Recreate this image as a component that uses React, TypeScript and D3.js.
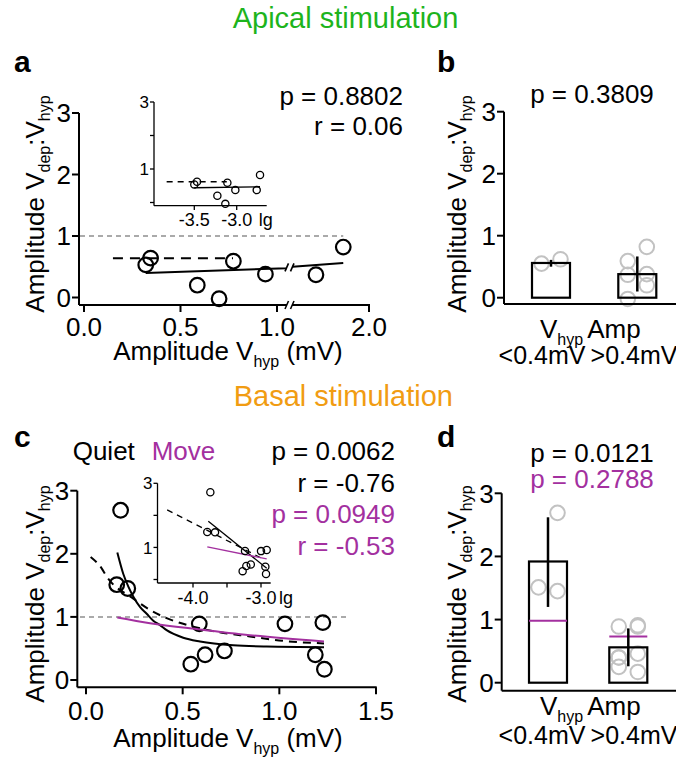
import React from "react";
import * as d3 from "d3";

const FONT = "Liberation Sans, Arial, Helvetica, sans-serif";
const GREEN = "#1db41d";
const ORANGE = "#f19c12";
const PURPLE = "#a3309f";
const GRAY_CIRCLE = "#c2c2c2";
const GRAY_LINE = "#8f8f8f";

// ---------- Panel a (apical, scatter) ----------
const apicalAmp = [0.32, 0.345, 0.587, 0.7, 0.774, 0.94, 1.66, 1.835];
const apicalRatio = [0.53, 0.64, 0.2, -0.02, 0.59, 0.38, 0.37, 0.82];
const apicalFitSolid: [number, number][] = [[0.32, 0.4], [1.05, 0.475], [1.51, 0.5], [1.835, 0.56]];
const apicalFitDashed: [number, number][] = [[0.15, 0.64], [0.772, 0.64]];
const apicalXTicks = [0, 0.5, 1.0, 2.0];
const apicalXTickLabels = ["0.0", "0.5", "1.0", "2.0"];
const yTicks = [0, 1, 2, 3];
const yTickLabels = ["0", "1", "2", "3"];

// inset a (log10 amplitude)
const apicalLgAmp = [-3.5, -3.468, -3.228, -3.134, -3.11, -3.016, -2.764, -2.725];
const apicalLgRatio = [0.54, 0.62, 0.2, -0.04, 0.59, 0.37, 0.37, 0.82];
const apicalLgSolid: [number, number][] = [[-3.5, 0.44], [-2.725, 0.47]];
const apicalLgDashed: [number, number][] = [[-3.826, 0.62], [-3.117, 0.62]];
const insetYTicks = [0, 1, 2, 3];
const insetYTickLabels = ["", "1", "", "3"];
const insetAXTicks = [-3.5, -3.0];
const insetAXTickLabels = ["-3.5", "-3.0"];

// ---------- Panel b (apical, bars) ----------
const barCategories = ["low", "high"];
const apicalLowPts = [0.55, 0.62];
const apicalHighPts = [0.59, 0.82, 0.37, 0.38, -0.02, 0.2];
const apicalBarMean = [0.56, 0.38];
const apicalBarErrLo = [0.5, 0.1];
const apicalBarErrHi = [0.61, 0.665];

// ---------- Panel c (basal, scatter) ----------
const basalAmp = [0.179, 0.159, 0.216, 0.586, 1.029, 1.225, 0.542, 0.616, 0.716, 1.186, 1.233];
const basalRatio = [2.69, 1.51, 1.45, 0.89, 0.89, 0.91, 0.25, 0.4, 0.46, 0.4, 0.17];
const quietFit: [number, number][] = [
  [0.162, 2.02], [0.193, 1.68], [0.219, 1.48], [0.245, 1.32], [0.279, 1.16], [0.314, 1.05],
  [0.348, 0.94], [0.383, 0.87], [0.417, 0.79], [0.503, 0.67], [0.59, 0.61], [0.762, 0.55],
  [0.935, 0.53], [1.231, 0.52],
];
const quietLinFit: [number, number][] = [
  [0.024, 1.95], [0.081, 1.77], [0.107, 1.64], [0.245, 1.29], [0.331, 1.11], [0.417, 0.98],
  [0.555, 0.845], [0.676, 0.765], [0.848, 0.69], [1.02, 0.62], [1.231, 0.58],
];
const moveFit: [number, number][] = [[0.162, 0.99], [0.331, 0.9], [0.59, 0.8], [0.848, 0.71], [1.231, 0.61]];
const basalXTicks = [0, 0.5, 1.0, 1.5];
const basalXTickLabels = ["0.0", "0.5", "1.0", "1.5"];

// inset c
const basalLgAmp = [-3.745, -3.79, -3.676, -3.235, -3.0, -2.916, -3.27, -3.216, -3.15, -2.936, -2.926];
const basalLgRatio = [2.72, 1.48, 1.47, 0.89, 0.885, 0.92, 0.26, 0.42, 0.47, 0.4, 0.17];
const basalLgSolid: [number, number][] = [[-3.775, 1.82], [-2.916, 0.35]];
const basalLgDashed: [number, number][] = [[-4.38, 2.17], [-2.95, 0.62]];
const basalLgMove: [number, number][] = [[-3.79, 1.02], [-2.916, 0.64]];
const insetCXTicks = [-4.0, -3.5, -3.0];
const insetCXTickLabels = ["-4.0", "", "-3.0"];

// ---------- Panel d (basal, bars) ----------
const basalLowPts = [1.51, 2.69, 1.45];
const basalLowSides = [-1, 1, 1];
const basalHighPts = [0.89, 0.91, 0.4, 0.46, 0.25, 0.17, 0.4, 0.89];
const basalBarMean = [1.92, 0.56];
const basalBarErrLo = [1.2, 0.26];
const basalBarErrHi = [2.62, 0.86];
const basalMoveMean = [0.98, 0.73];

// ---------- helpers ----------
const txt = (extra: any = {}) => ({ fontFamily: FONT, fontSize: 26, fill: "#000", ...extra });

function YTitle({ x, y }: { x: number; y: number }) {
  return (
    <text transform={`translate(${x},${y}) rotate(-90)`} textAnchor="middle" {...txt()}>
      <tspan>Amplitude V</tspan>
      <tspan fontSize={16} dy={6}>dep</tspan>
      <tspan dy={-6}>:V</tspan>
      <tspan fontSize={16} dy={6}>hyp</tspan>
    </text>
  );
}

function XTitle({ x, y }: { x: number; y: number }) {
  return (
    <text x={x} y={y} textAnchor="middle" {...txt()}>
      <tspan>Amplitude V</tspan>
      <tspan fontSize={16} dy={7}>hyp</tspan>
      <tspan dy={-7}> (mV)</tspan>
    </text>
  );
}

function YAxis({ x, y, top, bottom, labels = true, tickLen = 7, fontSize = 26, ticks = yTicks, tickLabels = yTickLabels, sw = 2 }: any) {
  return (
    <g>
      <line x1={x} x2={x} y1={top} y2={bottom} stroke="#000" strokeWidth={sw} />
      {ticks.map((t: number, i: number) => (
        <g key={i}>
          <line x1={x - tickLen} x2={x} y1={y(t)} y2={y(t)} stroke="#000" strokeWidth={sw} />
          {labels && tickLabels[i] !== "" && (
            <text x={x - tickLen - 1} y={y(t)} dy="0.36em" textAnchor="end" {...txt({ fontSize })}>
              {tickLabels[i]}
            </text>
          )}
        </g>
      ))}
    </g>
  );
}

function BreakMark({ x, y }: { x: number; y: number }) {
  return (
    <g>
      <rect x={x - 2.5} y={y - 4} width={5} height={8} fill="#fff" />
      <line x1={x - 4.5} y1={y + 4} x2={x - 1} y2={y - 4} stroke="#000" strokeWidth={1.6} />
      <line x1={x + 1} y1={y + 4} x2={x + 4.5} y2={y - 4} stroke="#000" strokeWidth={1.6} />
    </g>
  );
}

function BarPanel({ x, y, xAxisY, axisX, pts, sidesList, means, lo, hi, moveMeans }: any) {
  const bw = 38;
  return (
    <g>
      {barCategories.map((c, i) => {
        const cx = x(c) as number;
        return (
          <g key={c}>
            <rect x={cx - bw / 2} y={y(means[i])} width={bw} height={y(0) - y(means[i])} fill="#fff" />
            {pts[i].map((v: number, j: number) => {
              const side = sidesList[i] ? sidesList[i][j] : j % 2 === 0 ? -1 : 1;
              return (
                <circle key={j} cx={cx + side * 9.5} cy={y(v)} r={7.3} fill="none" stroke={GRAY_CIRCLE} strokeWidth={2} />
              );
            })}
            <rect x={cx - bw / 2} y={y(means[i])} width={bw} height={y(0) - y(means[i])} fill="none" stroke="#000" strokeWidth={2.2} />
            {moveMeans && (
              <line x1={cx - bw / 2} x2={cx + bw / 2} y1={y(moveMeans[i])} y2={y(moveMeans[i])} stroke={PURPLE} strokeWidth={2} />
            )}
            <line x1={cx} x2={cx} y1={y(lo[i])} y2={y(hi[i])} stroke="#000" strokeWidth={2.5} />
          </g>
        );
      })}
      <line x1={axisX} x2={676} y1={xAxisY} y2={xAxisY} stroke="#000" strokeWidth={2} />
    </g>
  );
}

function BarLabels({ y1, y2 }: { y1: number; y2: number }) {
  return (
    <g>
      <text x={540} y={y1} {...txt()}>
        <tspan>V</tspan>
        <tspan fontSize={16} dy={7}>hyp</tspan>
        <tspan dy={-7} dx={4}>Amp</tspan>
      </text>
      <text x={542} y={y2} textAnchor="middle" {...txt({ fontSize: 25 })}>&lt;0.4mV</text>
      <text x={634} y={y2} textAnchor="middle" {...txt({ fontSize: 25 })}>&gt;0.4mV</text>
    </g>
  );
}

export default function App() {
  // ----- panel a scales -----
  const xA = d3.scaleLinear().domain([0, 1.07, 1.5, 2.0]).range([84, 290.5, 291, 369]);
  const yA = d3.scaleLinear().domain([0, 3]).range([297.5, 113]);
  const xIA = d3.scaleLinear().domain([-3.5, -3.0]).range([194.3, 236.7]);
  const yIA = d3.scaleLinear().domain([0, 3]).range([202.5, 102]);

  // ----- panel b -----
  const xB = d3.scalePoint<string>().domain(barCategories).range([551, 637.3]);
  const yB = d3.scaleLinear().domain([0, 3]).range([297.7, 111.7]);

  // ----- panel c -----
  const xC = d3.scaleLinear().domain([0, 1.5]).range([86, 376]);
  const yC = d3.scaleLinear().domain([0, 3]).range([680, 490.7]);
  const xIC = d3.scaleLinear().domain([-4, -3]).range([193, 261]);
  const yIC = d3.scaleLinear().domain([0, 3]).range([579.5, 483.3]);

  // ----- panel d -----
  const xD = d3.scalePoint<string>().domain(barCategories).range([548, 628.3]);
  const yD = d3.scaleLinear().domain([0, 3]).range([682.7, 493.3]);

  const lineA = d3.line<[number, number]>().x((d) => xA(d[0])).y((d) => yA(d[1]));
  const lineIA = d3.line<[number, number]>().x((d) => xIA(d[0])).y((d) => yIA(d[1]));
  const lineC = d3.line<[number, number]>().x((d) => xC(d[0])).y((d) => yC(d[1])).curve(d3.curveMonotoneX);
  const lineIC = d3.line<[number, number]>().x((d) => xIC(d[0])).y((d) => yIC(d[1]));

  const aFitBreakY = yA(0.49);

  return (
    <svg width={676} height={758} style={{ position: "absolute", left: 0, top: 0, background: "#fff" }}>
      <rect width={676} height={758} fill="#fff" />
      {/* Titles */}
      <text x={345.5} y={28} textAnchor="middle" {...txt({ fontSize: 29, fill: GREEN })}>Apical stimulation</text>
      <text x={343.3} y={406} textAnchor="middle" {...txt({ fontSize: 29, fill: ORANGE })}>Basal stimulation</text>

      {/* ================= Panel a ================= */}
      <text x={14} y={72} {...txt({ fontSize: 30, fontWeight: "bold" })}>a</text>
      <text x={403} y={105} textAnchor="end" {...txt()}>p = 0.8802</text>
      <text x={403} y={135} textAnchor="end" {...txt()}>r = 0.06</text>
      <YAxis x={79} y={yA} top={113} bottom={305} />
      <line x1={79} x2={370} y1={305} y2={305} stroke="#000" strokeWidth={2} />
      {apicalXTicks.map((t, i) => (
        <g key={i}>
          <line x1={xA(t)} x2={xA(t)} y1={305} y2={312} stroke="#000" strokeWidth={2} />
          <text x={xA(t)} y={336} textAnchor="middle" {...txt()}>{apicalXTickLabels[i]}</text>
        </g>
      ))}
      <BreakMark x={289.5} y={305} />
      <line x1={80} x2={xA(1.835)} y1={yA(1)} y2={yA(1)} stroke={GRAY_LINE} strokeWidth={1.5} strokeDasharray="5,4" />
      <path d={lineA(apicalFitDashed) || ""} fill="none" stroke="#000" strokeWidth={2} strokeDasharray="10,7" />
      <path d={lineA(apicalFitSolid) || ""} fill="none" stroke="#000" strokeWidth={2} />
      {apicalAmp.map((v, i) => (
        <circle key={i} cx={xA(v)} cy={yA(apicalRatio[i])} r={7.3} fill="none" stroke="#000" strokeWidth={2.2} />
      ))}
      <BreakMark x={289.5} y={aFitBreakY} />
      <YTitle x={44} y={204} />
      <XTitle x={228} y={360} />

      {/* inset a */}
      <YAxis x={154} y={yIA} top={102} bottom={205.7} tickLen={4} fontSize={17} ticks={insetYTicks} tickLabels={insetYTickLabels} sw={1.3} />
      <line x1={154} x2={266.7} y1={205.7} y2={205.7} stroke="#000" strokeWidth={1.3} />
      {insetAXTicks.map((t, i) => (
        <g key={i}>
          <line x1={xIA(t)} x2={xIA(t)} y1={205.7} y2={210} stroke="#000" strokeWidth={1.3} />
          <text x={xIA(t)} y={226} textAnchor="middle" {...txt({ fontSize: 18 })}>{insetAXTickLabels[i]}</text>
        </g>
      ))}
      <text x={xIA(-3.0) + 22} y={226} {...txt({ fontSize: 18 })}>lg</text>
      <path d={lineIA(apicalLgDashed) || ""} fill="none" stroke="#000" strokeWidth={1.3} strokeDasharray="6,5" />
      <path d={lineIA(apicalLgSolid) || ""} fill="none" stroke="#000" strokeWidth={1.3} />
      {apicalLgAmp.map((v, i) => (
        <circle key={i} cx={xIA(v)} cy={yIA(apicalLgRatio[i])} r={3.6} fill="none" stroke="#000" strokeWidth={1.3} />
      ))}

      {/* ================= Panel b ================= */}
      <text x={437} y={72} {...txt({ fontSize: 30, fontWeight: "bold" })}>b</text>
      <text x={592} y={103} textAnchor="middle" {...txt()}>p = 0.3809</text>
      <YAxis x={504} y={yB} top={111.7} bottom={304} />
      <BarPanel
        x={xB}
        y={yB}
        xAxisY={304}
        axisX={504}
        pts={[apicalLowPts, apicalHighPts]}
        sidesList={[null, null]}
        means={apicalBarMean}
        lo={apicalBarErrLo}
        hi={apicalBarErrHi}
      />
      <YTitle x={466} y={204} />
      <BarLabels y1={338} y2={363.5} />

      {/* ================= Panel c ================= */}
      <text x={14} y={447} {...txt({ fontSize: 30, fontWeight: "bold" })}>c</text>
      <text x={72.7} y={460} {...txt()}>Quiet</text>
      <text x={151.7} y={460} {...txt({ fill: PURPLE })}>Move</text>
      <text x={395} y={460} textAnchor="end" {...txt()}>p = 0.0062</text>
      <text x={395} y={491.7} textAnchor="end" {...txt()}>r = -0.76</text>
      <text x={395} y={523.3} textAnchor="end" {...txt({ fill: PURPLE })}>p = 0.0949</text>
      <text x={395} y={555} textAnchor="end" {...txt({ fill: PURPLE })}>r = -0.53</text>
      <YAxis x={77.3} y={yC} top={490.7} bottom={687.3} />
      <line x1={77.3} x2={376.7} y1={687.3} y2={687.3} stroke="#000" strokeWidth={2} />
      {basalXTicks.map((t, i) => (
        <g key={i}>
          <line x1={xC(t)} x2={xC(t)} y1={687.3} y2={694.3} stroke="#000" strokeWidth={2} />
          <text x={xC(t)} y={720} textAnchor="middle" {...txt()}>{basalXTickLabels[i]}</text>
        </g>
      ))}
      <line x1={80} x2={xC(1.357)} y1={yC(1)} y2={yC(1)} stroke={GRAY_LINE} strokeWidth={1.5} strokeDasharray="5,4" />
      {basalAmp.map((v, i) => (
        <circle key={i} cx={xC(v)} cy={yC(basalRatio[i])} r={7.3} fill="none" stroke="#000" strokeWidth={2.2} />
      ))}
      <path d={lineC(quietLinFit) || ""} fill="none" stroke="#000" strokeWidth={2} strokeDasharray="8,6" />
      <path d={lineC(quietFit) || ""} fill="none" stroke="#000" strokeWidth={2} />
      <path d={lineC(moveFit) || ""} fill="none" stroke={PURPLE} strokeWidth={2} />
      <YTitle x={44} y={594} />
      <XTitle x={228} y={746.5} />

      {/* inset c */}
      <YAxis x={157.5} y={yIC} top={483.3} bottom={583} tickLen={4} fontSize={17} ticks={insetYTicks} tickLabels={insetYTickLabels} sw={1.3} />
      <line x1={157.5} x2={270.7} y1={583} y2={583} stroke="#000" strokeWidth={1.3} />
      {insetCXTicks.map((t, i) => (
        <g key={i}>
          <line x1={xIC(t)} x2={xIC(t)} y1={583} y2={587.5} stroke="#000" strokeWidth={1.3} />
          {insetCXTickLabels[i] !== "" && (
            <text x={xIC(t)} y={603.5} textAnchor="middle" {...txt({ fontSize: 18 })}>{insetCXTickLabels[i]}</text>
          )}
        </g>
      ))}
      <text x={xIC(-3.0) + 18} y={603.5} {...txt({ fontSize: 18 })}>lg</text>
      <path d={lineIC(basalLgDashed) || ""} fill="none" stroke="#000" strokeWidth={1.3} strokeDasharray="6,5" />
      <path d={lineIC(basalLgSolid) || ""} fill="none" stroke="#000" strokeWidth={1.3} />
      <path d={lineIC(basalLgMove) || ""} fill="none" stroke={PURPLE} strokeWidth={1.3} />
      {basalLgAmp.map((v, i) => (
        <circle key={i} cx={xIC(v)} cy={yIC(basalLgRatio[i])} r={3.6} fill="none" stroke="#000" strokeWidth={1.3} />
      ))}

      {/* ================= Panel d ================= */}
      <text x={437} y={447} {...txt({ fontSize: 30, fontWeight: "bold" })}>d</text>
      <text x={592} y={461.7} textAnchor="middle" {...txt()}>p = 0.0121</text>
      <text x={592} y={488.3} textAnchor="middle" {...txt({ fill: PURPLE })}>p = 0.2788</text>
      <YAxis x={501.7} y={yD} top={493.3} bottom={690.7} />
      <BarPanel
        x={xD}
        y={yD}
        xAxisY={690.7}
        axisX={501.7}
        pts={[basalLowPts, basalHighPts]}
        sidesList={[basalLowSides, null]}
        means={basalBarMean}
        lo={basalBarErrLo}
        hi={basalBarErrHi}
        moveMeans={basalMoveMean}
      />
      <YTitle x={466} y={594} />
      <BarLabels y1={715} y2={743.5} />
    </svg>
  );
}
